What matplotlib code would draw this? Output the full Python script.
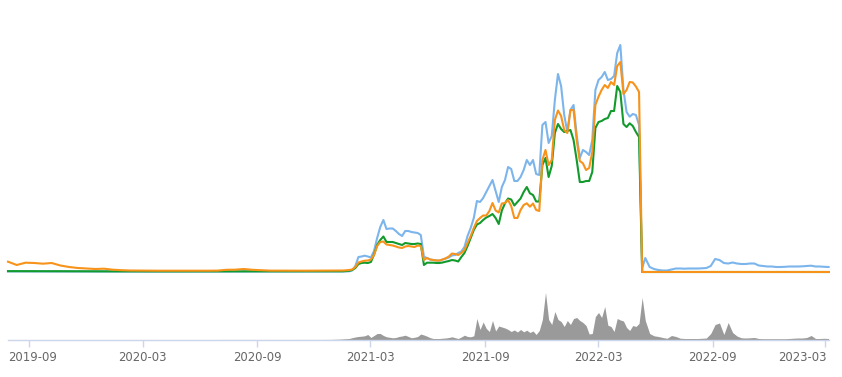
import matplotlib
matplotlib.use("Agg")
import matplotlib.pyplot as plt
import matplotlib.dates as mdates
import matplotlib.transforms as mtransforms
import pandas as pd
import numpy as np

# ---- dates (three sampling segments) ----
dates_a = pd.date_range("2019-07-29", periods=38, freq="14D")
dates_b = pd.date_range("2021-01-01", periods=101, freq="5D")
dates_c = pd.date_range("2022-05-23", periods=42, freq="7D")
dates = dates_a.append(dates_b).append(dates_c)

# ---- series values ----
blue_a = [0.30, 0.30, 0.29, 0.28, 0.28, 0.27, 0.26, 0.25, 0.24, 0.23, 0.23, 0.22, 0.22, 0.21, 0.21, 0.21,
          0.21, 0.21, 0.21, 0.21, 0.21, 0.21, 0.21, 0.21, 0.21, 0.22, 0.22, 0.22, 0.22, 0.21, 0.21, 0.21,
          0.21, 0.21, 0.22, 0.22, 0.23, 0.24]
blue_b = [0.26, 0.26, 0.26, 0.26, 0.26, 0.36, 0.78, 3.12, 7.80, 8.06,
          8.48, 8.06, 7.54, 10.92, 17.68, 23.40, 27.04, 22.36, 22.62, 22.62,
          21.32, 19.76, 18.72, 21.32, 21.32, 20.80, 20.54, 20.28, 19.24, 7.96,
          7.28, 6.50, 6.24, 5.98, 5.88, 6.50, 7.02, 7.54, 8.58, 8.84,
          9.88, 10.66, 13.00, 18.72, 22.88, 28.08, 36.92, 36.40, 38.48, 41.60,
          44.72, 47.84, 42.12, 36.40, 44.20, 47.84, 54.60, 53.56, 47.32, 47.32,
          49.40, 53.04, 58.24, 55.64, 58.24, 50.96, 50.44, 76.44, 78.00, 67.08,
          70.72, 89.44, 102.96, 96.72, 81.64, 72.80, 84.24, 86.84, 71.24, 59.28,
          63.44, 62.40, 60.84, 68.64, 94.64, 99.84, 101.40, 104.00, 99.84, 100.36,
          101.92, 113.88, 118.04, 94.64, 83.20, 80.76, 82.16, 81.64, 76.44, 2.08,
          7.28]
blue_c = [2.60, 1.56, 1.04, 0.78, 0.78, 1.30, 1.82, 1.82, 1.72, 1.82, 1.82, 1.82, 1.92, 2.08,
          3.12, 6.76, 6.24, 4.68, 4.42, 4.94, 4.42, 4.16, 4.16, 4.42, 4.42, 3.38, 3.12, 2.86,
          2.86, 2.60, 2.60, 2.70, 2.86, 2.86, 2.86, 2.96, 3.12, 3.28, 2.86, 2.86, 2.70, 2.60]

orange_a = [5.36, 3.64, 4.84, 4.68, 4.32, 4.68, 3.38, 2.60, 2.08, 1.82, 1.56, 1.72, 1.20, 0.94, 0.78, 0.73,
            0.70, 0.68, 0.66, 0.68, 0.70, 0.68, 0.66, 0.68, 0.72, 1.14, 1.20, 1.56, 1.14, 0.94, 0.72, 0.70,
            0.68, 0.66, 0.68, 0.70, 0.72, 0.74]
orange_b = [0.78, 0.78, 0.78, 0.78, 0.88, 1.04, 1.30, 2.60, 4.94, 5.46,
            5.88, 5.98, 6.50, 8.84, 13.52, 15.60, 15.86, 14.30, 14.04, 13.78,
            13.26, 12.74, 12.48, 13.26, 13.52, 13.26, 13.00, 13.78, 13.52, 6.24,
            7.28, 6.50, 6.24, 5.98, 5.98, 6.50, 7.12, 8.06, 9.62, 9.36,
            8.84, 9.88, 11.44, 15.08, 18.72, 22.88, 26.52, 28.08, 29.38, 29.38,
            31.72, 35.88, 31.98, 30.94, 35.62, 35.88, 37.44, 34.32, 28.08, 28.08,
            32.24, 34.84, 35.72, 33.96, 35.62, 32.24, 31.72, 58.24, 63.44, 55.64,
            58.24, 79.04, 83.98, 81.12, 73.84, 72.28, 84.24, 84.24, 68.64, 57.72,
            56.52, 53.04, 54.08, 62.40, 86.84, 91.16, 94.64, 97.24, 95.68, 98.80,
            97.24, 107.12, 109.20, 92.56, 94.64, 98.80, 98.54, 96.46, 93.60, 0.00,
            0.00]
orange_c = [0.0002, 0.0002, 0.0001, 0.0001, 0.0001, 0.0001, 0.0001, 0.0001, 0.0001, 0.0001, 0.0001,
            0.0001, 0.0001, 0.0001, 0.0001, 0.0001, 0.0001, 0.0001, 0.0001, 0.0001, 0.0001, 0.0001,
            0.0001, 0.0001, 0.0001, 0.0001, 0.0001, 0.0001, 0.0001, 0.0001, 0.0001, 0.0001, 0.0001,
            0.0001, 0.0001, 0.0001, 0.0001, 0.0001, 0.0001, 0.0001, 0.0001, 0.0001]

green_a = [0.45, 0.45, 0.44, 0.43, 0.42, 0.42, 0.40, 0.38, 0.36, 0.35, 0.34, 0.34, 0.33, 0.32, 0.32, 0.31,
           0.31, 0.31, 0.31, 0.31, 0.31, 0.31, 0.31, 0.31, 0.31, 0.32, 0.32, 0.32, 0.32, 0.31, 0.31, 0.31,
           0.31, 0.31, 0.32, 0.32, 0.33, 0.34]
green_b = [0.36, 0.36, 0.36, 0.36, 0.52, 0.62, 1.04, 2.08, 4.16, 4.68,
           4.84, 4.68, 5.20, 9.10, 14.04, 16.64, 18.46, 15.60, 15.60, 15.60,
           15.08, 14.56, 14.04, 15.08, 14.82, 14.56, 14.56, 14.82, 14.56, 3.64,
           4.84, 4.84, 4.84, 4.68, 4.68, 4.94, 5.36, 5.72, 6.24, 5.98,
           5.46, 7.80, 9.88, 13.52, 17.68, 21.84, 24.70, 25.48, 27.04, 28.34,
           29.12, 30.16, 28.08, 24.96, 31.98, 35.72, 38.22, 37.70, 34.58, 36.40,
           38.22, 41.60, 44.20, 40.92, 40.04, 36.66, 36.66, 55.64, 59.28, 49.40,
           55.12, 72.28, 76.96, 74.36, 72.80, 73.32, 73.84, 68.64, 58.24, 46.80,
           46.80, 47.32, 47.32, 52.00, 74.88, 78.00, 78.52, 79.56, 80.08, 83.72,
           83.72, 96.72, 93.60, 76.96, 75.40, 77.32, 75.92, 72.80, 70.20, 0.00,
           0.00]
green_c = [0.0002, 0.0002, 0.0001, 0.0001, 0.0001, 0.0001, 0.0001, 0.0001, 0.0001, 0.0001, 0.0001,
           0.0001, 0.0001, 0.0001, 0.0001, 0.0001, 0.0001, 0.0001, 0.0001, 0.0001, 0.0001, 0.0001,
           0.0001, 0.0001, 0.0001, 0.0001, 0.0001, 0.0001, 0.0001, 0.0001, 0.0001, 0.0001, 0.0001,
           0.0001, 0.0001, 0.0001, 0.0001, 0.0001, 0.0001, 0.0001, 0.0001, 0.0001]

volume_a = [0.02, 0.02, 0.02, 0.02, 0.02, 0.02, 0.02, 0.02, 0.02, 0.02, 0.02, 0.02, 0.02, 0.02, 0.02, 0.02,
            0.02, 0.02, 0.02, 0.02, 0.02, 0.02, 0.02, 0.02, 0.02, 0.05, 0.05, 0.05, 0.04, 0.04, 0.04, 0.04,
            0.04, 0.04, 0.05, 0.05, 0.05, 0.1]
volume_b = [0.2, 0.3, 0.4, 0.6, 0.8, 1.0, 1.8, 2.5, 3.0, 3.3,
            3.7, 5.0, 2.0, 4.0, 6.0, 6.0, 4.0, 2.7, 2.2, 1.7,
            2.0, 3.0, 3.5, 4.3, 3.0, 1.7, 2.2, 3.0, 5.5, 4.5,
            3.3, 1.8, 1.0, 1.0, 1.0, 1.3, 1.5, 2.0, 2.7, 1.8,
            1.0, 2.5, 4.3, 3.0, 2.7, 3.7, 21.0, 10.0, 17.5, 11.0,
            8.0, 19.0, 8.5, 13.5, 12.5, 11.5, 10.0, 8.0, 9.5, 7.5,
            10.0, 7.7, 9.3, 7.0, 8.5, 5.0, 9.0, 20.0, 47.0, 20.0,
            15.0, 28.0, 20.0, 18.0, 13.0, 19.0, 15.0, 21.0, 22.0, 19.0,
            17.0, 14.0, 5.5, 6.0, 23.0, 27.0, 22.0, 33.0, 14.3, 13.0,
            8.0, 21.0, 19.5, 18.5, 12.0, 9.0, 14.0, 13.0, 16.0, 42.0,
            19.0]
volume_c = [6.0, 3.7, 3.0, 2.0, 1.2, 4.0, 3.0, 1.3, 1.0, 1.0, 1.0, 1.0, 1.2, 1.5,
            6.0, 15.0, 16.5, 5.0, 17.0, 7.0, 3.5, 1.7, 1.5, 1.7, 2.0, 1.0, 0.8, 0.8,
            0.8, 0.8, 0.8, 0.8, 1.0, 1.3, 1.5, 1.5, 2.0, 4.0, 1.0, 1.0, 1.2, 1.0]

blue = blue_a + blue_b + blue_c
orange = orange_a + orange_b + orange_c
green = green_a + green_b + green_c
volume = volume_a + volume_b + volume_c

# ---- figure ----
W, H = 842, 377
fig = plt.figure(figsize=(W / 100, H / 100), dpi=100)
fig.patch.set_facecolor("white")

x_left, x_right = 8, 828.6
ax = fig.add_axes([x_left / W, (H - 272) / H, (x_right - x_left) / W, (125 / 0.52) / H])
axv = fig.add_axes([x_left / W, (H - 339.5) / H, (x_right - x_left) / W, 50 / H], sharex=ax)

ax.plot(dates, blue, color="#7cb5ec", lw=1.5, zorder=2, clip_on=False, solid_joinstyle="round")
ax.plot(dates, green, color="#129a2c", lw=1.5, zorder=3, clip_on=False, solid_joinstyle="round")
ax.plot(dates, orange, color="#f7931a", lw=1.5, zorder=4, clip_on=False, solid_joinstyle="round")
ax.set_ylim(0, 125)
ax.set_xlim(dates[0], dates[-1])
ax.axis("off")

axv.fill_between(dates, volume, 0, color="#9a9a9a", lw=0)
axv.set_ylim(0, 50)
for s in ["top", "left", "right"]:
    axv.spines[s].set_visible(False)
axv.spines["bottom"].set_color("#ccd6eb")
axv.spines["bottom"].set_linewidth(1.0)
axv.set_yticks([])
axv.xaxis.set_major_locator(mdates.MonthLocator(bymonth=[3, 9]))
axv.xaxis.set_major_formatter(mdates.DateFormatter("%Y-%m"))
axv.tick_params(axis="x", colors="#ccd6eb", length=5, width=1, pad=3, labelcolor="#666666",
                labelsize=8.4)
axv.set_facecolor("none")

# keep the edge labels inside the figure, as the original does
fig.canvas.draw()
ticks = axv.xaxis.get_major_ticks()
first, last = ticks[0].label1, ticks[-1].label1
first.set_horizontalalignment("left")
first.set_transform(first.get_transform() + mtransforms.ScaledTranslation(-21.5 / 100, 0, fig.dpi_scale_trans))
last.set_horizontalalignment("right")
last.set_transform(last.get_transform() + mtransforms.ScaledTranslation(1.5 / 100, 0, fig.dpi_scale_trans))

fig.savefig("out.png", dpi=100, facecolor="white")
